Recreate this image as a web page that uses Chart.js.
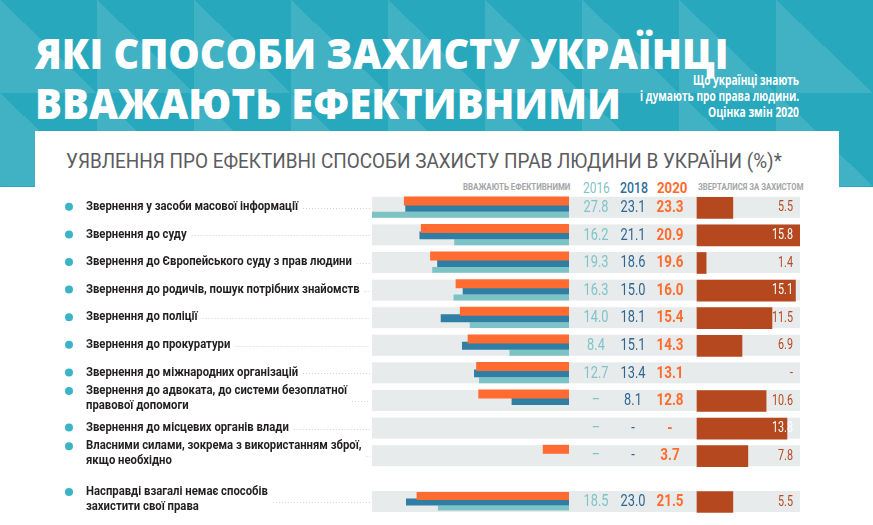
<!DOCTYPE html>
<html>
<head>
<meta charset="utf-8">
<script src="https://cdn.jsdelivr.net/npm/chart.js@4.4.1/dist/chart.umd.min.js"></script>
<style>
  body { margin: 0; width: 873px; height: 525px; overflow: hidden; background: #fff; position: relative; font-family: Roboto, "Open Sans", sans-serif; }
  #bg { position: absolute; left: 0; top: 0; width: 873px; height: 187px; background-color: #28a8bd;
        background-image: linear-gradient(to top right, #41b2c4 50%, transparent 50%); background-size: 97px 93px; }
  #panel { position: absolute; left: 35px; top: 131px; width: 804px; height: 394px; background: #fff; }
  .t { position: absolute; white-space: nowrap; line-height: 1; transform-origin: 0 0; }
  .title { font: 800 42px "Open Sans", sans-serif; color: #fff; }
  .sub { font: bold 14px "Open Sans", sans-serif; color: #fff; }
  .ctitle { font: 20px Roboto, sans-serif; color: #5b5c5e; }
  .small { font: bold 8.5px Roboto, sans-serif; color: #a3a5a8; }
  .year { font: 15px Roboto, sans-serif; }
  canvas { position: absolute; left: 0; }
</style>
</head>
<body>
<div id="bg"></div>
<div id="panel"></div>

<div class="t title" id="t1" style="top:24px">ЯКІ СПОСОБИ ЗАХИСТУ УКРАЇНЦІ</div>
<div class="t title" id="t2" style="top:74px">ВВАЖАЮТЬ ЕФЕКТИВНИМИ</div>
<div class="t sub" id="s1" style="top:70px">Що українці знають</div>
<div class="t sub" id="s2" style="top:86px">і думають про права людини.</div>
<div class="t sub" id="s3" style="top:102px">Оцінка змін 2020</div>
<div class="t ctitle" id="ct" style="top:149px">УЯВЛЕННЯ ПРО ЕФЕКТИВНІ СПОСОБИ ЗАХИСТУ ПРАВ ЛЮДИНИ В УКРАЇНИ (%)*</div>
<div class="t small" id="h1" style="top:182px">ВВАЖАЮТЬ ЕФЕКТИВНИМИ</div>
<div class="t year" id="y16" style="top:179px;color:#7fc4c6">2016</div>
<div class="t year" id="y18" style="top:179px;color:#2f6f98;font-weight:500">2018</div>
<div class="t year" id="y20" style="top:179px;color:#ff6b2c;font-weight:bold">2020</div>
<div class="t small" id="h2" style="top:182px">ЗВЕРТАЛИСЯ ЗА ЗАХИСТОМ</div>

<canvas id="top" width="873" height="276" style="top:194px"></canvas>
<canvas id="bottom" width="873" height="48" style="top:478px"></canvas>

<script>
// Data
const CATEGORIES = [
    'Звернення у засоби масової інформації',
    'Звернення до суду',
    'Звернення до Європейського суду з прав людини',
    'Звернення до родичів, пошук потрібних знайомств',
    'Звернення до поліції',
    'Звернення до прокуратури',
    'Звернення до міжнародних організацій',
    ['Звернення до адвоката, до системи безоплатної', 'правової допомоги'],
    'Звернення до місцевих органів влади',
    ['Власними силами, зокрема з використанням зброї,', 'якщо необхідно'],
    ['Насправді взагалі немає способів', 'захистити свої права']
];
const EFFECTIVE_2016 = [27.8, 16.2, 19.3, 16.3, 14.0, 8.4, 12.7, null, null, null, 18.5];
const EFFECTIVE_2018 = [23.1, 21.1, 18.6, 15.0, 18.1, 15.1, 13.4, 8.1, null, null, 23.0];
const EFFECTIVE_2020 = [23.3, 20.9, 19.6, 16.0, 15.4, 14.3, 13.1, 12.8, null, 3.7, 21.5];
const APPEALED = [5.5, 15.8, 1.4, 15.1, 11.5, 6.9, null, 10.6, 13.8, 7.8, 5.5];
const YEARS = ['2016', '2018', '2020'];

// Colours
const C2016 = '#7bc3c4', C2018 = '#2f7ea3', C2020 = '#ff6b30', CAPPEAL = '#b5481e';
const T2016 = '#7fc4c6', T2018 = '#2f6690', T2020 = '#ff6b2c';

// Layout of the strips (pixels) and axis ends
const AREA_LEFT = 372, LEFT_ZERO = 569, RIGHT_ZERO = 697, AREA_RIGHT = 800;
const LEFT_MAX = 27.8, RIGHT_MAX = 15.8;
const leftMin = -LEFT_MAX * (AREA_RIGHT - LEFT_ZERO) / (LEFT_ZERO - AREA_LEFT);
const rightMin = -RIGHT_MAX * (RIGHT_ZERO - AREA_LEFT) / (AREA_RIGHT - RIGHT_ZERO);

// HTML text: squeeze each block into its box (the source uses a condensed face)
function fit(id, left, width) {
    const el = document.getElementById(id);
    el.style.left = left + 'px';
    el.style.transform = 'scaleX(' + (width / el.offsetWidth) + ')';
}
fit('t1', 35, 694);
fit('t2', 35, 586);
fit('s1', 693, 106);
fit('s2', 640, 159);
fit('s3', 708, 91);
fit('ct', 66, 716);
fit('h1', 463, 107);
fit('y16', 583, 27);
fit('y18', 620, 28);
fit('y20', 657, 30);
fit('h2', 698, 105);

// canvas text helpers
const LABEL_FONT = 'bold 12.5px Roboto';
const NUM_FONT = '17px Roboto';
const NUM_BOLD = 'bold 17px Roboto';
const APP_FONT = '14px Roboto';

function squeeze(font, sample, width) {
    const c = document.createElement('canvas').getContext('2d');
    c.font = font;
    return width / c.measureText(sample).width;
}
const LABEL_SX = squeeze(LABEL_FONT, 'Звернення у засоби масової інформації', 212);
const NUM_SX = squeeze(NUM_FONT, '27.8', 25);
const BOLD_SX = squeeze(NUM_BOLD, '23.3', 27);
const APP_SX = squeeze(APP_FONT, '15.8', 21);

function drawText(ctx, str, x, y, font, color, align, sx) {
    ctx.save();
    ctx.font = font;
    ctx.fillStyle = color;
    ctx.textAlign = align;
    ctx.textBaseline = 'middle';
    ctx.translate(x, y);
    ctx.scale(sx, 1);
    ctx.fillText(str, 0, 0);
    const w = ctx.measureText(str).width * sx;
    ctx.restore();
    return w;
}

function fmt(v, dash) {
    return v === null ? dash : v.toFixed(1);
}

// Strips, labels and value texts
const rowsPlugin = {
    id: 'rows',
    beforeDatasetsDraw(chart, args, opts) {
        const ctx = chart.ctx;
        const y = chart.scales.y;
        chart.data.labels.forEach((l, i) => {
            const p = y.getPixelForValue(i);
            ctx.fillStyle = '#e8ebec';
            ctx.fillRect(AREA_LEFT, p - 11, AREA_RIGHT - AREA_LEFT, 21);
        });
    },
    afterDatasetsDraw(chart, args, opts) {
        const ctx = chart.ctx;
        const y = chart.scales.y;
        const x2 = chart.scales.x2;
        chart.data.labels.forEach((label, i) => {
            const k = opts.start + i;
            const p = y.getPixelForValue(i);
            const lines = Array.isArray(label) ? label : [label];
            const ys = lines.length > 1 ? [p - 10, p + 5] : [p - 1];

            // bullet
            ctx.fillStyle = '#3cb4c7';
            ctx.beginPath();
            ctx.arc(69, ys[0], 4, 0, Math.PI * 2);
            ctx.fill();

            let maxW = 0;
            lines.forEach((ln, j) => {
                maxW = Math.max(maxW, drawText(ctx, ln, 86, ys[j], LABEL_FONT, '#231f20', 'left', LABEL_SX));
            });

            // dotted leader
            ctx.save();
            ctx.strokeStyle = '#cfd1d3';
            ctx.lineWidth = 1;
            ctx.setLineDash([1, 2]);
            ctx.beginPath();
            ctx.moveTo(86 + maxW + 5, Math.round(p) + 0.5);
            ctx.lineTo(AREA_LEFT - 2, Math.round(p) + 0.5);
            ctx.stroke();
            ctx.restore();

            drawText(ctx, fmt(EFFECTIVE_2016[k], '–'), 596, p, NUM_FONT, T2016, 'center', NUM_SX);
            drawText(ctx, fmt(EFFECTIVE_2018[k], '-'), 633, p, NUM_FONT, T2018, 'center', NUM_SX);
            drawText(ctx, fmt(EFFECTIVE_2020[k], '-'), 670, p, NUM_BOLD, T2020, 'center', BOLD_SX);

            const a = APPEALED[k];
            const inside = a !== null && x2.getPixelForValue(a) > 785;
            drawText(ctx, fmt(a, '-'), 793, p, APP_FONT, inside ? '#ffffff' : CAPPEAL, 'right', APP_SX);
        });
    }
};

function makeChart(id, start, end, pad) {
    return new Chart(document.getElementById(id), {
        type: 'bar',
        data: {
            labels: CATEGORIES.slice(start, end),
            datasets: [
                {
                    label: YEARS[2],
                    data: EFFECTIVE_2020.slice(start, end),
                    backgroundColor: C2020,
                    xAxisID: 'x',
                    categoryPercentage: 0.75,
                    barPercentage: 1.3
                },
                {
                    label: YEARS[1],
                    data: EFFECTIVE_2018.slice(start, end),
                    backgroundColor: C2018,
                    xAxisID: 'x',
                    categoryPercentage: 0.75,
                    barPercentage: 1.15
                },
                {
                    label: YEARS[0],
                    data: EFFECTIVE_2016.slice(start, end),
                    backgroundColor: C2016,
                    xAxisID: 'x',
                    categoryPercentage: 0.75,
                    barPercentage: 0.85
                },
                {
                    label: 'Зверталися за захистом',
                    data: APPEALED.slice(start, end),
                    backgroundColor: CAPPEAL,
                    xAxisID: 'x2',
                    grouped: false,
                    barThickness: 21
                }
            ]
        },
        options: {
            indexAxis: 'y',
            responsive: false,
            devicePixelRatio: 1,
            animation: false,
            events: [],
            layout: { padding: { left: AREA_LEFT, right: 873 - AREA_RIGHT, top: pad, bottom: pad } },
            scales: {
                x: { type: 'linear', reverse: true, min: leftMin, max: LEFT_MAX, display: false },
                x2: { type: 'linear', min: rightMin, max: RIGHT_MAX, display: false },
                y: { type: 'category', offset: true, display: false }
            },
            plugins: {
                legend: { display: false },
                tooltip: { enabled: false },
                rows: { start: start }
            }
        },
        plugins: [rowsPlugin]
    });
}

makeChart('top', 0, 10, 0);
makeChart('bottom', 10, 11, 12);
</script>
</body>
</html>
